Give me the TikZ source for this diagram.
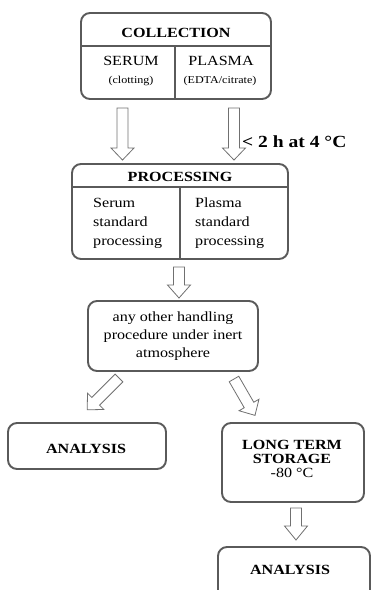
\documentclass[tikz,border=0pt]{standalone}
\usepackage{fontspec}
\setmainfont{Liberation Serif}[FakeStretch=1.15]
\usetikzlibrary{calc}

\definecolor{frame}{HTML}{5A5A5A}
\definecolor{arrowline}{HTML}{707070}

% hollow block arrow: start point, direction angle, total length, shaft length
\newcommand{\hollowarrow}[4]{%
  \begin{scope}[shift={#1}, rotate=#2]
    \draw[blockarr] (0,-5.5) -- (#4,-5.5) -- (#4,-11.5) -- (#3,0)
      -- (#4,11.5) -- (#4,5.5) -- (0,5.5) -- cycle;
  \end{scope}}

\tikzset{
  box/.style={draw=frame, line width=1.9pt, rounded corners=9pt, inner sep=0pt},
  divider/.style={draw=frame, line width=1.2pt},
  blockarr/.style={draw=arrowline, line width=0.8pt, fill=white, line join=miter},
  hdr/.style={font=\fontsize{14}{16}\selectfont\bfseries, inner sep=0pt},
  body/.style={font=\fontsize{14}{16}\selectfont, inner sep=0pt},
  small/.style={font=\fontsize{10.5}{12}\selectfont, inner sep=0pt},
  para/.style={font=\fontsize{14}{19}\selectfont, inner sep=0pt, align=left},
  cpara/.style={font=\fontsize{14}{18}\selectfont, inner sep=0pt, align=center},
}

\begin{document}
\begin{tikzpicture}[x=1pt, y=-1pt]
  \useasboundingbox (0,0) rectangle (372,590);
  \clip (0,0) rectangle (372,590);

  % collection
  \node[box, minimum width=190pt, minimum height=86pt] (coll) at (176,56) {};
  \draw[divider] (81,46) -- (271,46);
  \draw[divider] (175,46) -- (175,99);
  \node[hdr] (collT) at (176,33) {COLLECTION};
  \node[body] (serum) at (131,61) {SERUM};
  \node[small] (clot) at (131,81) {(clotting)};
  \node[body] (plasma) at (221,61) {PLASMA};
  \node[small] (edta) at (220,81) {(EDTA/citrate)};

  % arrows into processing
  \hollowarrow{(122.5,108)}{-90}{52}{40}
  \hollowarrow{(234,108)}{-90}{52}{40}
  \node[hdr, font=\fontsize{17}{19}\selectfont\bfseries, anchor=west] (cond) at (242,142) {< 2 h at 4 °C};

  % processing
  \node[box, minimum width=216pt, minimum height=95pt] (proc) at (180,211.5) {};
  \draw[divider] (72,187) -- (288,187);
  \draw[divider] (180,187) -- (180,259);
  \node[hdr] (procT) at (180,177) {PROCESSING};
  \node[para, anchor=north west] (sproc) at (93,198) {Serum\\standard\\processing};
  \node[para, anchor=north west] (pproc) at (195,198) {Plasma\\standard\\processing};

  \hollowarrow{(179,267)}{-90}{31}{18}

  % handling under inert atmosphere
  \node[box, minimum width=170pt, minimum height=70pt] (hand) at (173,336) {};
  \node[cpara] (handT) at (173,336) {any other handling\\procedure under inert\\atmosphere};

  \hollowarrow{(119,378)}{-135}{45}{33}
  \hollowarrow{(234,379)}{-60}{42}{30}

  % analysis (left)
  \node[box, minimum width=158pt, minimum height=46pt] (anaL) at (87,446) {};
  \node[hdr] (anaLT) at (86,449) {ANALYSIS};

  % long term storage
  \node[box, minimum width=142pt, minimum height=79pt] (store) at (293,462.5) {};
  \node[cpara, font=\fontsize{14}{14}\selectfont\bfseries] (storeT) at (292,452) {LONG TERM\\STORAGE};
  \node[body] (temp) at (292,473) {-80 °C};

  \hollowarrow{(296,508)}{-90}{32}{18}

  % analysis (bottom right)
  \node[box, minimum width=152pt, minimum height=60pt] (anaR) at (294,577) {};
  \node[hdr] (anaRT) at (290,570) {ANALYSIS};
\end{tikzpicture}
\end{document}
